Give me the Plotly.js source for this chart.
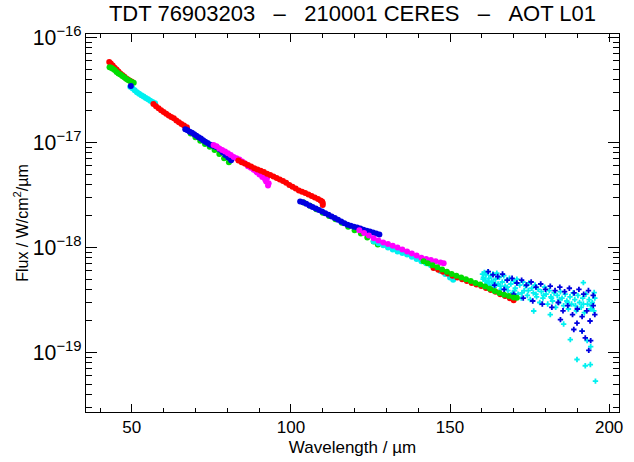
<!DOCTYPE html>
<html>
<head>
<meta charset="utf-8">
<script src="https://cdn.plot.ly/plotly-3.0.1.min.js"></script>
<style>html,body{margin:0;padding:0;background:#fff;}#chart{width:634px;height:462px;}</style>
</head>
<body>
<div id="chart"></div>
<script>
// ---- data (wavelength in micron, flux in W/cm2/micron) ----
const red1_wl = [42.9, 43.4, 44.0, 44.6, 45.2, 45.8, 46.4, 47.0, 47.6, 48.2, 48.8, 49.4, 50.0];
const red1_flux = [5.85e-17, 5.65e-17, 5.40e-17, 5.15e-17, 4.95e-17, 4.75e-17, 4.55e-17, 4.40e-17, 4.25e-17, 4.10e-17, 3.98e-17, 3.88e-17, 3.80e-17];

const green1_wl = [43.0, 43.5, 44.0, 44.6, 45.2, 45.8, 46.4, 47.0, 47.6, 48.2, 48.8, 49.4, 50.0, 50.6];
const green1_flux = [5.20e-17, 5.15e-17, 5.05e-17, 4.90e-17, 4.70e-17, 4.55e-17, 4.45e-17, 4.30e-17, 4.18e-17, 4.05e-17, 3.95e-17, 3.85e-17, 3.75e-17, 3.70e-17];

const cyan1_wl = [49.5, 50.2, 50.9, 51.6, 52.3, 53.0, 53.7, 54.4, 55.1, 55.8, 56.5, 57.3];
const cyan1_flux = [3.40e-17, 3.28e-17, 3.15e-17, 3.02e-17, 2.92e-17, 2.82e-17, 2.74e-17, 2.66e-17, 2.58e-17, 2.50e-17, 2.43e-17, 2.37e-17];

const red2_wl = [56.8, 57.6, 58.4, 59.2, 60.0, 60.8, 61.6, 62.4, 63.2, 64.0, 64.8, 65.6, 66.4, 67.3];
const red2_flux = [2.33e-17, 2.22e-17, 2.12e-17, 2.03e-17, 1.95e-17, 1.88e-17, 1.81e-17, 1.75e-17, 1.70e-17, 1.62e-17, 1.56e-17, 1.50e-17, 1.45e-17, 1.40e-17];

const green2_wl = [68.5, 70.0, 71.5, 73.0, 74.5, 76.0, 77.5, 79.0, 80.5];
const green2_flux = [1.22e-17, 1.12e-17, 1.04e-17, 9.7e-18, 9.1e-18, 8.5e-18, 7.8e-18, 7.1e-18, 6.5e-18];

const blue2_wl = [49.7, 66.8, 67.5, 68.2, 68.9, 69.6, 70.3, 71.0, 71.7, 72.4, 73.1, 73.8, 74.5, 75.2, 75.9, 76.7, 77.6, 78.5, 79.4, 80.3, 81.2];
const blue2_flux = [3.46e-17, 1.34e-17, 1.31e-17, 1.27e-17, 1.24e-17, 1.20e-17, 1.16e-17, 1.12e-17, 1.09e-17, 1.05e-17, 1.02e-17, 9.9e-18, 9.6e-18, 9.4e-18, 9.2e-18, 9.0e-18, 8.6e-18, 8.1e-18, 7.6e-18, 7.2e-18, 6.8e-18];

const magenta1_wl = [75.7, 76.6, 77.5, 78.4, 79.3, 80.2, 81.1, 82.0, 82.9, 83.8, 84.7, 85.6, 86.5, 87.4, 88.3, 89.2, 90.1, 91.0, 91.9, 92.5, 93.0, 91.5, 92.2, 92.8];
const magenta1_flux = [9.5e-18, 9.2e-18, 8.8e-18, 8.5e-18, 8.2e-18, 7.9e-18, 7.6e-18, 7.3e-18, 7.1e-18, 6.9e-18, 6.6e-18, 6.3e-18, 5.95e-18, 5.75e-18, 5.5e-18, 5.2e-18, 4.95e-18, 4.7e-18, 4.45e-18, 4.6e-18, 4.1e-18, 4.9e-18, 4.25e-18, 3.9e-18];

const red3_wl = [83.5, 84.5, 85.5, 86.5, 87.5, 88.5, 89.5, 90.5, 91.5, 92.5, 93.5, 94.5, 95.5, 96.5, 97.5, 98.5, 99.5, 100.5, 101.5, 102.5, 103.5, 104.5, 105.5, 106.5, 107.5, 108.5, 109.3, 110.0, 110.0, 109.8];
const red3_flux = [6.75e-18, 6.5e-18, 6.3e-18, 6.1e-18, 5.9e-18, 5.7e-18, 5.55e-18, 5.4e-18, 5.25e-18, 5.05e-18, 4.9e-18, 4.75e-18, 4.6e-18, 4.45e-18, 4.3e-18, 4.15e-18, 3.95e-18, 3.8e-18, 3.65e-18, 3.5e-18, 3.4e-18, 3.3e-18, 3.2e-18, 3.1e-18, 3.0e-18, 2.9e-18, 2.8e-18, 2.65e-18, 2.55e-18, 2.75e-18];

const green3_wl = [104, 106, 108, 110, 112, 114, 116, 118, 120, 122, 124, 126, 127.3];
const green3_flux = [2.68e-18, 2.50e-18, 2.32e-18, 2.15e-18, 2.0e-18, 1.86e-18, 1.72e-18, 1.58e-18, 1.46e-18, 1.36e-18, 1.25e-18, 1.14e-18, 1.07e-18];

const blue3_wl = [102.9, 103.8, 104.8, 105.8, 106.8, 107.8, 108.8, 109.8, 110.8, 111.8, 112.8, 113.8, 114.8, 115.8, 116.8, 117.8, 118.8, 119.8, 120.8, 121.8, 122.8, 123.8, 124.8, 125.8, 126.8, 127.8];
const blue3_flux = [2.75e-18, 2.70e-18, 2.62e-18, 2.52e-18, 2.44e-18, 2.36e-18, 2.28e-18, 2.20e-18, 2.12e-18, 2.05e-18, 1.98e-18, 1.91e-18, 1.84e-18, 1.77e-18, 1.70e-18, 1.65e-18, 1.61e-18, 1.58e-18, 1.55e-18, 1.52e-18, 1.48e-18, 1.45e-18, 1.42e-18, 1.39e-18, 1.36e-18, 1.33e-18];

const cyan2_wl = [126, 127.5, 129, 130.5, 132, 133.5, 135, 136.5, 138, 139.5, 141, 142.5, 144, 145.5, 147, 148.5, 150, 151];
const cyan2_flux = [1.15e-18, 1.10e-18, 1.05e-18, 1.00e-18, 9.6e-19, 9.2e-19, 8.9e-19, 8.57e-19, 8.2e-19, 7.8e-19, 7.4e-19, 7.1e-19, 6.8e-19, 6.4e-19, 6.0e-19, 5.6e-19, 5.2e-19, 4.95e-19];

const magenta2_wl = [121.5, 123, 124.5, 126, 127.5, 129, 130.5, 132, 133.5, 135, 136.5, 138, 139.5, 141, 142.5, 144, 145.5, 147, 148];
const magenta2_flux = [1.46e-18, 1.38e-18, 1.30e-18, 1.23e-18, 1.17e-18, 1.12e-18, 1.08e-18, 1.04e-18, 1.00e-18, 9.6e-19, 9.2e-19, 8.8e-19, 8.4e-19, 8.0e-19, 7.8e-19, 7.6e-19, 7.4e-19, 7.2e-19, 7.1e-19];

const cyan3_wl = [160.2, 160.5, 160.8, 161.0, 161.3, 161.6, 161.9, 162.2, 162.5, 162.8, 163.1, 163.5, 163.9, 164.3, 164.7, 165.1, 165.5, 166.0, 166.4, 166.9, 167.3, 167.8, 168.2, 168.7, 169.1, 169.6, 170.0, 170.5, 171.0, 171.4, 171.9, 172.4, 172.9, 173.3, 173.8, 174.3, 174.8, 175.2, 175.7, 176.2, 176.7, 177.2, 177.7, 178.2, 178.7, 179.2, 179.7, 180.2, 180.7, 181.2, 181.7, 182.2, 182.7, 183.2, 183.7, 184.2, 184.7, 185.2, 185.7, 186.2, 186.7, 187.2, 187.7, 188.2, 188.7, 189.2, 189.7, 190.2, 190.7, 191.2, 191.7, 192.2, 192.7, 193.2, 193.7, 194.2, 194.7, 195.2, 195.5, 176.3, 181.5, 185.7, 187.8, 189.9, 192.5, 194.1, 195.7, 191.5, 193.1, 194.2, 191.9, 195.3, 160.4, 162.0, 163.7, 165.8, 168.0, 170.3, 172.6, 174.6, 177.0, 179.4, 181.9, 184.4, 186.9, 189.4, 191.9, 194.4];
const cyan3_flux = [5.6e-19, 5.2e-19, 5.8e-19, 4.9e-19, 5.5e-19, 4.6e-19, 5.9e-19, 5.1e-19, 4.4e-19, 5.4e-19, 4.8e-19, 5.6e-19, 4.2e-19, 5.0e-19, 5.7e-19, 4.5e-19, 5.2e-19, 4.0e-19, 4.7e-19, 5.4e-19, 4.3e-19, 4.9e-19, 3.9e-19, 5.1e-19, 4.5e-19, 3.7e-19, 4.8e-19, 4.1e-19, 5.0e-19, 3.6e-19, 4.4e-19, 3.3e-19, 4.7e-19, 3.9e-19, 4.3e-19, 3.5e-19, 4.6e-19, 3.2e-19, 4.1e-19, 3.7e-19, 4.4e-19, 3.4e-19, 4.0e-19, 3.0e-19, 3.8e-19, 3.3e-19, 4.2e-19, 3.6e-19, 2.9e-19, 3.9e-19, 3.4e-19, 3.1e-19, 3.7e-19, 2.7e-19, 3.5e-19, 3.0e-19, 3.8e-19, 3.3e-19, 2.8e-19, 3.6e-19, 3.1e-19, 2.6e-19, 3.4e-19, 2.9e-19, 3.7e-19, 3.2e-19, 2.5e-19, 3.5e-19, 3.0e-19, 2.7e-19, 3.3e-19, 2.4e-19, 3.6e-19, 2.9e-19, 3.2e-19, 2.6e-19, 3.0e-19, 2.5e-19, 3.3e-19, 2.49e-19, 2.30e-19, 1.87e-19, 1.33e-19, 8.6e-20, 7.5e-20, 7.7e-20, 5.35e-20, 1.60e-19, 1.30e-19, 1.14e-19, 4.64e-19, 3.73e-19, 5.0e-19, 4.7e-19, 4.6e-19, 4.3e-19, 4.2e-19, 3.9e-19, 3.7e-19, 3.9e-19, 3.6e-19, 3.5e-19, 3.3e-19, 3.2e-19, 3.0e-19, 2.8e-19, 2.9e-19, 2.8e-19];

const blue4_wl = [162, 163.5, 165, 166.5, 168, 169.5, 171, 172.5, 174, 175.5, 177, 178.5, 180, 181.5, 183, 184.5, 186, 187.5, 189, 190.5, 192, 193.5, 195, 164, 167, 170, 173, 176, 179, 182, 184, 185.5, 187, 188.5, 190, 191.5, 193, 194, 195, 195.5, 188.9, 191.5, 192.5, 194.2, 193.6, 184.7, 189.9];
const blue4_flux = [5.9e-19, 5.5e-19, 5.3e-19, 5.6e-19, 4.9e-19, 5.1e-19, 4.6e-19, 4.9e-19, 4.4e-19, 4.7e-19, 4.2e-19, 4.5e-19, 4.0e-19, 4.3e-19, 3.9e-19, 4.2e-19, 3.8e-19, 4.1e-19, 3.7e-19, 4.0e-19, 3.6e-19, 3.9e-19, 3.5e-19, 4.4e-19, 4.0e-19, 3.6e-19, 3.3e-19, 3.1e-19, 2.9e-19, 2.7e-19, 3.0e-19, 2.5e-19, 2.8e-19, 2.3e-19, 2.6e-19, 2.2e-19, 2.5e-19, 2.0e-19, 2.8e-19, 2.3e-19, 1.66e-19, 1.60e-19, 1.38e-19, 1.30e-19, 1.05e-19, 2.06e-19, 1.91e-19];

const red4_wl = [144.8, 146.3, 147.8, 149.3, 150.8, 152.3, 153.8, 155.3, 156.8, 158.3, 159.8, 161.3, 162.8, 164.3, 165.8, 167.3, 168.8, 170];
const red4_flux = [6.4e-19, 6.15e-19, 5.9e-19, 5.65e-19, 5.4e-19, 5.2e-19, 5.0e-19, 4.8e-19, 4.6e-19, 4.45e-19, 4.3e-19, 4.12e-19, 3.95e-19, 3.8e-19, 3.6e-19, 3.45e-19, 3.3e-19, 3.15e-19];

const green4_wl = [141.7, 143, 144.5, 146, 147.5, 149, 150.5, 152, 153.5, 155, 156.5, 158, 159.5, 161, 162.5, 164, 165.5, 167, 168.5, 170, 171];
const green4_flux = [7.4e-19, 7.1e-19, 6.8e-19, 6.5e-19, 6.2e-19, 5.9e-19, 5.6e-19, 5.4e-19, 5.2e-19, 5.0e-19, 4.8e-19, 4.6e-19, 4.44e-19, 4.25e-19, 4.05e-19, 3.85e-19, 3.7e-19, 3.55e-19, 3.45e-19, 3.35e-19, 3.32e-19];

const x_tick_step = 50;
const x_minor_step = 10;
const title_text = 'TDT 76903203\u00a0\u00a0\u00a0–\u00a0\u00a0\u00a0210001 CERES\u00a0\u00a0\u00a0–\u00a0\u00a0\u00a0AOT L01';

// ---- styling ----
const RED = '#ff0000', GREEN = '#00dd00', BLUE = '#0000e0', CYAN = '#00f0f0', MAGENTA = '#ff00ff';
function band(x, y, c) {
  return {type: 'scatter', mode: 'markers', x: x, y: y, hoverinfo: 'skip',
          marker: {color: c, size: 6, symbol: 'circle', line: {width: 0}}};
}
function spots(x, y, c) {
  return {type: 'scatter', mode: 'markers', x: x, y: y, hoverinfo: 'skip',
          marker: {color: c, size: 4.5, symbol: 'cross', line: {width: 0}}};
}
const traces = [
  band(red1_wl, red1_flux, RED),
  band(green1_wl, green1_flux, GREEN),
  band(cyan1_wl, cyan1_flux, CYAN),
  band(red2_wl, red2_flux, RED),
  band(green2_wl, green2_flux, GREEN),
  band(blue2_wl, blue2_flux, BLUE),
  band(magenta1_wl, magenta1_flux, MAGENTA),
  band(red3_wl, red3_flux, RED),
  band(green3_wl, green3_flux, GREEN),
  band(blue3_wl, blue3_flux, BLUE),
  band(cyan2_wl, cyan2_flux, CYAN),
  band(magenta2_wl, magenta2_flux, MAGENTA),
  spots(cyan3_wl, cyan3_flux, CYAN),
  spots(blue4_wl, blue4_flux, BLUE),
  band(red4_wl, red4_flux, RED),
  band(green4_wl, green4_flux, GREEN)
];

const FONT = 'Liberation Sans, Arial, Helvetica, sans-serif';
const layout = {
  width: 634, height: 462,
  paper_bgcolor: '#fff', plot_bgcolor: '#fff',
  showlegend: false,
  font: {family: FONT, size: 17, color: '#000'},
  margin: {l: 86, r: 15, t: 34, b: 50, pad: 0},
  title: {text: title_text, font: {family: FONT, size: 22, color: '#000'},
          xref: 'paper', x: 0.5, xanchor: 'center', yref: 'container', y: 0.972, yanchor: 'middle'},
  xaxis: {
    range: [35.6, 203.1], tick0: 0, dtick: x_tick_step,
    ticks: 'inside', ticklen: 8, tickwidth: 1, tickcolor: '#000',
    showline: true, linecolor: '#000', linewidth: 1, mirror: 'allticks',
    showgrid: false, zeroline: false,
    tickfont: {family: FONT, size: 17, color: '#000'},
    minor: {dtick: x_minor_step, tick0: 0, ticks: 'inside', ticklen: 4, tickcolor: '#000', showgrid: false},
    title: {text: 'Wavelength / µm', font: {family: FONT, size: 17, color: '#000'}, standoff: 4}
  },
  yaxis: {
    type: 'log', range: [Math.log10(2.72e-20), Math.log10(1.08e-16)],
    dtick: 1, exponentformat: 'power',
    ticks: 'inside', ticklen: 11, tickwidth: 1, tickcolor: '#000',
    showline: true, linecolor: '#000', linewidth: 1, mirror: 'allticks',
    showgrid: false, zeroline: false,
    tickfont: {family: FONT, size: 17, color: '#000'},
    minor: {dtick: 'D1', ticks: 'inside', ticklen: 6, tickcolor: '#000', showgrid: false},
    title: {text: 'Flux / W/cm<sup>2</sup>/µm', font: {family: FONT, size: 16, color: '#000'}, standoff: 0}
  }
};
Plotly.newPlot('chart', traces, layout, {staticPlot: true, displayModeBar: false});
</script>
</body>
</html>
